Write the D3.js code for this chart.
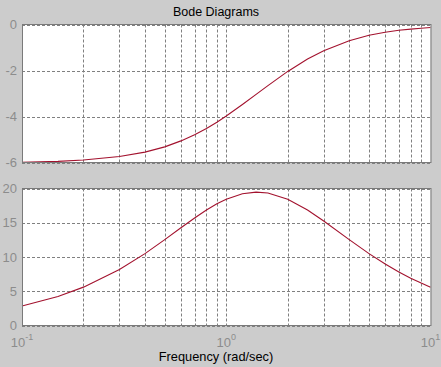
<!DOCTYPE html>
<html>
<head>
<meta charset="utf-8">
<script src="https://cdn.jsdelivr.net/npm/d3@7"></script>
<style>
  html, body { margin: 0; padding: 0; background: #cccccc; }
  svg { display: block; font-family: "Liberation Sans", Arial, sans-serif; }
</style>
</head>
<body>
<svg id="chart" width="441" height="367"></svg>
<script>
// frequency points (rad/sec)
const freq = [0.1, 0.15, 0.2, 0.3, 0.4, 0.5, 0.6, 0.7, 0.8, 0.9, 1, 1.2, 1.4, 1.6, 2, 2.5, 3, 4, 5, 6, 7, 8, 9, 10];
// magnitude (dB)
const magnitude = [-5.99, -5.95, -5.89, -5.74, -5.55, -5.32, -5.06, -4.79, -4.52, -4.25, -3.98, -3.48, -3.04, -2.66, -2.04, -1.50, -1.14, -0.71, -0.47, -0.34, -0.25, -0.20, -0.16, -0.13];
// phase (deg)
const phase = [2.85, 4.24, 5.60, 8.17, 10.49, 12.53, 14.27, 15.70, 16.86, 17.76, 18.43, 19.23, 19.47, 19.34, 18.43, 16.86, 15.26, 12.53, 10.49, 8.97, 7.82, 6.91, 6.19, 5.60];

const magTicks = [0, -2, -4, -6];
const phaseTicks = [0, 5, 10, 15, 20];
const decadeTicks = [0.1, 1, 10];
const decadeLabels = ["-1", "0", "1"];
const gridFreqs = [0.2, 0.3, 0.4, 0.5, 0.6, 0.7, 0.8, 0.9, 1, 2, 3, 4, 5, 6, 7, 8, 9];

const svg = d3.select("#chart");
const left = 22, right = 430.5;
const curveColor = "#a3122e";
const labelColor = "#8c8c8c";

const x = d3.scaleLog().domain([0.1, 10]).range([left, right]);

const panels = [
  { values: magnitude, ticks: magTicks, domain: [-6, 0], top: 24.5, bottom: 162.5 },
  { values: phase, ticks: phaseTicks, domain: [0, 20], top: 188.5, bottom: 325.5 }
];

panels.forEach((p) => {
  const y = d3.scaleLinear().domain(p.domain).range([p.bottom, p.top]);
  const g = svg.append("g");

  g.append("rect")
    .attr("x", left)
    .attr("y", p.top)
    .attr("width", right - left)
    .attr("height", p.bottom - p.top)
    .attr("fill", "#ffffff");

  // vertical grid
  g.append("g")
    .selectAll("line")
    .data(gridFreqs)
    .join("line")
    .attr("x1", (d) => Math.round(x(d)) + 0.5)
    .attr("x2", (d) => Math.round(x(d)) + 0.5)
    .attr("y1", p.top)
    .attr("y2", p.bottom)
    .attr("stroke", "#808080")
    .attr("stroke-dasharray", "3,2");

  // horizontal grid
  g.append("g")
    .selectAll("line")
    .data(p.ticks)
    .join("line")
    .attr("x1", left)
    .attr("x2", right)
    .attr("y1", (d) => Math.round(y(d)) + 0.5)
    .attr("y2", (d) => Math.round(y(d)) + 0.5)
    .attr("stroke", "#808080")
    .attr("stroke-dasharray", "3,2");

  g.append("path")
    .datum(freq.map((f, i) => [f, p.values[i]]))
    .attr("fill", "none")
    .attr("stroke", curveColor)
    .attr("stroke-width", 1.1)
    .attr("d", d3.line().x((d) => x(d[0])).y((d) => y(d[1])));

  g.append("rect")
    .attr("x", left + 0.5)
    .attr("y", p.top)
    .attr("width", right - left)
    .attr("height", p.bottom - p.top)
    .attr("fill", "none")
    .attr("stroke", "#7a7a7a");

  // y tick labels
  g.append("g")
    .selectAll("text")
    .data(p.ticks)
    .join("text")
    .attr("x", 17)
    .attr("y", (d) => y(d))
    .attr("dy", "0.36em")
    .attr("text-anchor", "end")
    .attr("fill", labelColor)
    .attr("font-size", 13)
    .text((d) => d);
});

// x decade labels
const xl = svg.append("g")
  .selectAll("text")
  .data(decadeTicks)
  .join("text")
  .attr("x", (d) => x(d))
  .attr("y", 347)
  .attr("text-anchor", "middle")
  .attr("fill", labelColor)
  .attr("font-size", 13);
xl.append("tspan").text("10");
xl.append("tspan")
  .attr("dy", -7)
  .attr("font-size", 9)
  .text((d, i) => decadeLabels[i]);

svg.append("text")
  .attr("x", 216)
  .attr("y", 16)
  .attr("text-anchor", "middle")
  .attr("font-size", 12.5)
  .attr("fill", "#000")
  .text("Bode Diagrams");

svg.append("text")
  .attr("x", 216)
  .attr("y", 361)
  .attr("text-anchor", "middle")
  .attr("font-size", 12.8)
  .attr("fill", "#000")
  .text("Frequency (rad/sec)");
</script>
</body>
</html>
